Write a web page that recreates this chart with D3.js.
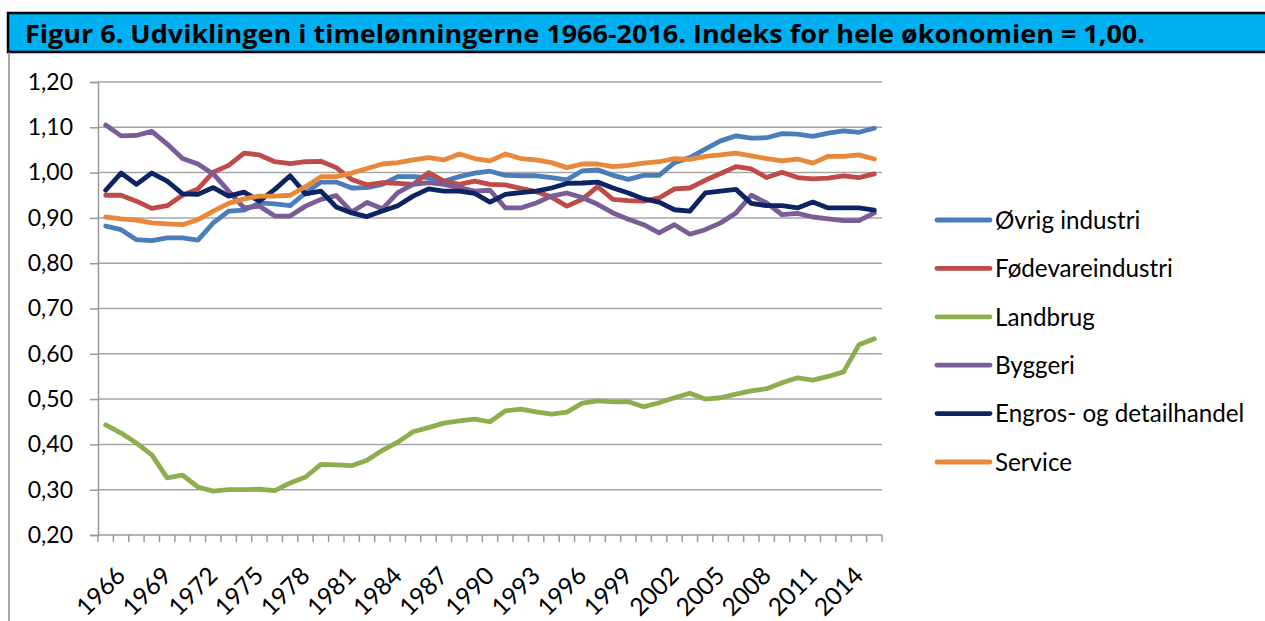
<!DOCTYPE html>
<html>
<head>
<meta charset="utf-8">
<script src="https://cdn.jsdelivr.net/npm/d3@7"></script>
<style>
  body { margin: 0; background: #fff; }
  svg { display: block; font-family: Lato, "Open Sans", sans-serif; }
</style>
</head>
<body>
<div id="chart"></div>
<script>
const years = d3.range(1966, 2017);
const yTicks = [0.2, 0.3, 0.4, 0.5, 0.6, 0.7, 0.8, 0.9, 1.0, 1.1, 1.2];
const labelYears = d3.range(1966, 2017, 3);

const ovrigIndustri = [0.882, 0.874, 0.852, 0.850, 0.856, 0.856, 0.851, 0.889, 0.915, 0.917,
  0.933, 0.931, 0.927, 0.955, 0.979, 0.979, 0.966, 0.967, 0.974, 0.991,
  0.991, 0.989, 0.981, 0.991, 0.999, 1.003, 0.994, 0.993, 0.993, 0.989,
  0.984, 1.004, 1.006, 0.994, 0.985, 0.994, 0.994, 1.022, 1.033, 1.052,
  1.070, 1.081, 1.076, 1.077, 1.086, 1.085, 1.080, 1.087, 1.092, 1.089, 1.098];
const fodevareindustri = [0.950, 0.950, 0.937, 0.921, 0.927, 0.950, 0.964, 1.001, 1.016, 1.043,
  1.039, 1.024, 1.020, 1.024, 1.025, 1.011, 0.985, 0.973, 0.978, 0.976,
  0.974, 1.000, 0.981, 0.974, 0.981, 0.974, 0.973, 0.965, 0.958, 0.946,
  0.926, 0.941, 0.969, 0.941, 0.938, 0.937, 0.944, 0.964, 0.966, 0.983,
  0.998, 1.013, 1.008, 0.989, 1.001, 0.989, 0.986, 0.988, 0.993, 0.989, 0.997];
const landbrug = [0.443, 0.425, 0.403, 0.377, 0.326, 0.332, 0.306, 0.297, 0.300, 0.300,
  0.301, 0.298, 0.315, 0.328, 0.356, 0.355, 0.353, 0.365, 0.387, 0.405,
  0.428, 0.437, 0.447, 0.452, 0.456, 0.450, 0.474, 0.478, 0.472, 0.467,
  0.471, 0.491, 0.496, 0.494, 0.494, 0.483, 0.492, 0.503, 0.513, 0.500,
  0.503, 0.511, 0.518, 0.523, 0.536, 0.547, 0.542, 0.550, 0.560, 0.620, 0.633];
const byggeri = [1.105, 1.081, 1.082, 1.091, 1.063, 1.031, 1.019, 0.997, 0.959, 0.922,
  0.926, 0.904, 0.904, 0.926, 0.941, 0.949, 0.913, 0.934, 0.920, 0.956,
  0.974, 0.978, 0.974, 0.967, 0.959, 0.961, 0.922, 0.922, 0.933, 0.948,
  0.955, 0.945, 0.930, 0.911, 0.897, 0.885, 0.867, 0.885, 0.864, 0.874,
  0.889, 0.911, 0.950, 0.933, 0.907, 0.910, 0.902, 0.898, 0.894, 0.894, 0.911];
const engros = [0.961, 0.999, 0.974, 0.999, 0.981, 0.953, 0.952, 0.967, 0.948, 0.957,
  0.937, 0.963, 0.993, 0.953, 0.959, 0.924, 0.911, 0.903, 0.915, 0.927,
  0.948, 0.964, 0.959, 0.959, 0.954, 0.935, 0.952, 0.956, 0.959, 0.966,
  0.976, 0.977, 0.979, 0.966, 0.955, 0.942, 0.935, 0.918, 0.915, 0.955,
  0.959, 0.963, 0.932, 0.927, 0.927, 0.922, 0.935, 0.922, 0.922, 0.922, 0.917];
const service = [0.902, 0.898, 0.895, 0.889, 0.887, 0.885, 0.896, 0.915, 0.932, 0.942,
  0.948, 0.948, 0.950, 0.969, 0.991, 0.991, 0.999, 1.009, 1.019, 1.022,
  1.028, 1.033, 1.028, 1.041, 1.031, 1.026, 1.041, 1.031, 1.028, 1.022,
  1.011, 1.019, 1.019, 1.013, 1.016, 1.021, 1.024, 1.031, 1.029, 1.036,
  1.039, 1.043, 1.037, 1.031, 1.026, 1.030, 1.021, 1.036, 1.036, 1.039, 1.030];

const seriesNames = ["Øvrig industri", "Fødevareindustri", "Landbrug", "Byggeri",
  "Engros- og detailhandel", "Service"];
const seriesValues = [ovrigIndustri, fodevareindustri, landbrug, byggeri, engros, service];
const colors = ["#4A7EBB", "#BE4B48", "#8DAE4F", "#7A5C99", "#0D2462", "#E8883A"];

const title = "Figur 6. Udviklingen i timelønningerne 1966-2016. Indeks for hele økonomien = 1,00.";

const width = 1265;
const height = 621;
const plot = { left: 98, right: 882, top: 82, bottom: 535 };

const svg = d3.select("#chart")
  .append("svg")
  .attr("width", width)
  .attr("height", height);

// title bar
svg.append("rect")
  .attr("x", 8)
  .attr("y", 13)
  .attr("width", 1270)
  .attr("height", 39)
  .attr("fill", "#00B0F0")
  .attr("stroke", "#000")
  .attr("stroke-width", 2.5);

svg.append("text")
  .attr("x", 25)
  .attr("y", 43)
  .attr("font-size", 25)
  .attr("font-weight", "bold")
  .attr("font-family", "'Open Sans', sans-serif")
  .attr("textLength", 1120)
  .attr("lengthAdjust", "spacingAndGlyphs")
  .attr("fill", "#000")
  .text(title);

// outer frame, left edge
svg.append("line")
  .attr("x1", 9).attr("x2", 9)
  .attr("y1", 52).attr("y2", height)
  .attr("stroke", "#888")
  .attr("stroke-width", 1.5);

const x = d3.scaleBand().domain(years).range([plot.left, plot.right]);
const y = d3.scaleLinear().domain([0.2, 1.2]).range([plot.bottom, plot.top]);
const xc = (yr) => x(yr) + x.bandwidth() / 2;

// gridlines
svg.append("g")
  .selectAll("line")
  .data(yTicks.slice(1))
  .join("line")
  .attr("x1", plot.left)
  .attr("x2", plot.right)
  .attr("y1", (d) => y(d))
  .attr("y2", (d) => y(d))
  .attr("stroke", "#A6A6A6")
  .attr("stroke-width", 1.5);

// y axis
const yAxis = d3.axisLeft(y)
  .tickValues(yTicks)
  .tickSize(8)
  .tickPadding(17)
  .tickFormat((d) => d3.format(".2f")(d).replace(".", ","));

const yg = svg.append("g")
  .attr("transform", `translate(${plot.left},0)`)
  .call(yAxis);
yg.select(".domain").attr("stroke", "#999").attr("stroke-width", 1.5);
yg.selectAll(".tick line").attr("stroke", "#999").attr("stroke-width", 1.5);
yg.selectAll(".tick text")
  .attr("font-size", 23)
  .attr("font-family", "Lato, sans-serif")
  .attr("fill", "#000");

// x axis line + tick marks at category edges
svg.append("line")
  .attr("x1", plot.left).attr("x2", plot.right)
  .attr("y1", plot.bottom).attr("y2", plot.bottom)
  .attr("stroke", "#999")
  .attr("stroke-width", 1.5);

svg.append("g")
  .selectAll("line")
  .data(years.concat([null]))
  .join("line")
  .attr("x1", (d) => (d === null ? plot.right : x(d)))
  .attr("x2", (d) => (d === null ? plot.right : x(d)))
  .attr("y1", plot.bottom)
  .attr("y2", plot.bottom + 7)
  .attr("stroke", "#999")
  .attr("stroke-width", 1.5);

svg.append("g")
  .selectAll("text")
  .data(labelYears)
  .join("text")
  .attr("transform", (d) => `translate(${xc(d) + 9},${plot.bottom + 30}) rotate(-45)`)
  .attr("text-anchor", "end")
  .attr("dy", "0.7em")
  .attr("font-size", 24.5)
  .attr("fill", "#000")
  .text((d) => d);

// series lines
const lineGen = d3.line()
  .x((d, i) => xc(years[i]))
  .y((d) => y(d));

svg.append("g")
  .selectAll("path")
  .data(seriesValues)
  .join("path")
  .attr("fill", "none")
  .attr("stroke", (d, i) => colors[i])
  .attr("stroke-width", 4.8)
  .attr("stroke-linejoin", "round")
  .attr("stroke-linecap", "round")
  .attr("d", lineGen);

// legend
const legend = svg.append("g")
  .selectAll("g")
  .data(seriesNames)
  .join("g")
  .attr("transform", (d, i) => `translate(937,${220 + i * 48.4})`);

legend.append("line")
  .attr("x1", 0).attr("x2", 53)
  .attr("stroke", (d, i) => colors[i])
  .attr("stroke-width", 4.8)
  .attr("stroke-linecap", "round");

legend.append("text")
  .attr("x", 58)
  .attr("dy", "0.36em")
  .attr("font-size", 24.2)
  .attr("fill", "#000")
  .text((d) => d);
</script>
</body>
</html>
